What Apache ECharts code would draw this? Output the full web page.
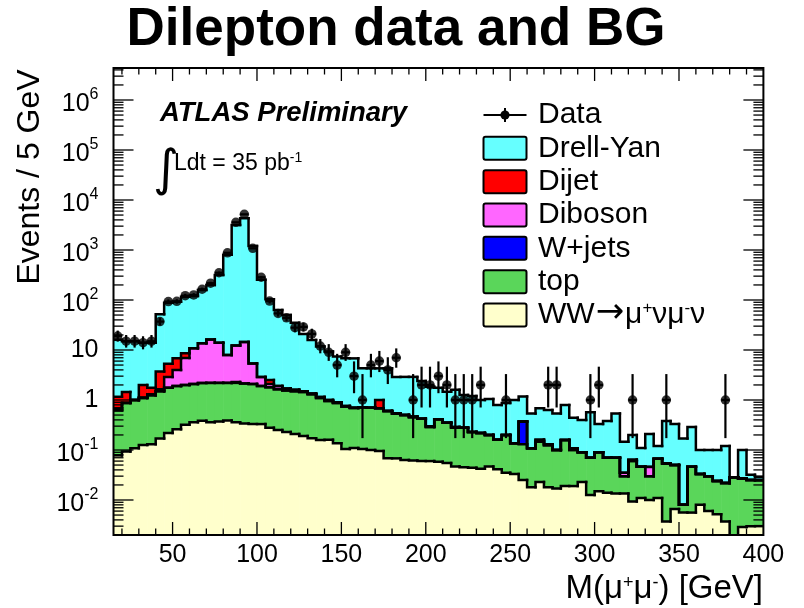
<!DOCTYPE html>
<html>
<head>
<meta charset="utf-8">
<script src="https://cdn.jsdelivr.net/npm/echarts@6/dist/echarts.min.js"></script>
<style>
  html, body { margin: 0; padding: 0; background: #fff; }
  #chart { width: 804px; height: 608px; }
</style>
</head>
<body>
<div id="chart"></div>
<script>
// Dimuon invariant mass, 5 GeV bins from 15 to 400 GeV
const massLow = 15;
const binWidth = 5;

// Observed events per bin
const dataCounts = [
  19, 15, 15, 14, 15, 37, 93, 94, 122, 126, 164, 217, 351, 880, 3580, 5170, 1080, 285, 95, 54,
  44, 28, 29, 21, 12, 9, 5, 9, 3, 1, 5, 6, 4, 7, 0, 1, 2, 2, 3, 2,
  1, 1, 1, 2, 0, 0, 1, 0, 0, 0, 0, 2, 2, 0, 0, 0, 1, 2, 0, 0,
  0, 1, 0, 0, 0, 1, 0, 0, 0, 0, 0, 0, 1, 0, 0, 0, 0
];

// Expected events per bin for each process (stacked bottom to top)
const wwMuNuMuNu = [
  0.078, 0.093, 0.108, 0.126, 0.13, 0.17, 0.22, 0.26, 0.32, 0.36, 0.385, 0.36, 0.37, 0.39, 0.36, 0.34, 0.33, 0.33, 0.28, 0.25,
  0.23, 0.21, 0.19, 0.171, 0.158, 0.16, 0.136, 0.105, 0.11, 0.105, 0.1, 0.095, 0.068, 0.068, 0.063, 0.062, 0.06, 0.06, 0.058, 0.055,
  0.047, 0.045, 0.044, 0.042, 0.047, 0.041, 0.035, 0.033, 0.025, 0.018, 0.023, 0.018, 0.017, 0.019, 0.019, 0.023, 0.0126, 0.015, 0.014, 0.0135,
  0.0135, 0.0093, 0.011, 0.01, 0.011, 0.0037, 0.0066, 0.0056, 0.0056, 0.008, 0.006, 0.0052, 0.0037, 0, 0.0029, 0.003, 0.003
];
const topQuark = [
  0.552, 0.777, 0.892, 0.974, 1.12, 1.33, 1.53, 1.64, 1.68, 1.74, 1.815, 1.84, 1.83, 1.81, 1.84, 1.81, 1.77, 1.57, 1.52, 1.4,
  1.32, 1.29, 1.26, 1.129, 0.942, 0.79, 0.734, 0.635, 0.58, 0.615, 0.6, 0.585, 0.532, 0.472, 0.437, 0.388, 0.36, 0.23, 0.352, 0.295,
  0.233, 0.235, 0.186, 0.178, 0.153, 0.119, 0.165, 0.103, 0.105, 0.09, 0.124, 0.107, 0.083, 0.139, 0.081, 0.067, 0.0574, 0.075, 0.056, 0.0565,
  0.0165, 0.0507, 0.035, 0.02, 0.056, 0.0503, 0.0434, 0.0024, 0.0404, 0.025, 0.024, 0.0188, 0.0183, 0.0285, 0.0241, 0.022, 0.022
];
const wJets = [
  0, 0, 0, 0, 0, 0, 0, 0, 0, 0, 0, 0, 0, 0, 0.1, 0, 0, 0, 0, 0,
  0, 0, 0, 0, 0, 0, 0, 0, 0, 0, 0, 0, 0, 0, 0, 0, 0, 0, 0, 0,
  0, 0, 0, 0, 0, 0, 0, 0, 0.24, 0, 0, 0, 0, 0, 0, 0, 0, 0, 0, 0,
  0, 0, 0, 0, 0, 0, 0, 0, 0, 0, 0, 0, 0, 0, 0, 0, 0
];
const diboson = [
  0.03, 0.01, 0, 0.02, 0.05, 0.15, 1.15, 2.1, 4.9, 8.7, 11.4, 14.1, 11.8, 5.7, 10, 12.35, 3.3, 1.0, 0.3, 0.25,
  0.15, 0.1, 0.05, 0.05, 0.05, 0.05, 0.03, 0.02, 0.01, 0, 0, 0, 0, 0, 0, 0.02, 0, 0.01, 0, 0,
  0.01, 0, 0, 0, 0, 0, 0, 0, 0, 0, 0.013, 0.005, 0, 0, 0.008, 0, 0, 0, 0, 0,
  0.005, 0.004, 0, 0.016, 0, 0, 0, 0, 0, 0, 0, 0, 0, 0, 0, 0, 0
];
const dijet = [
  0.5, 0.57, 0, 0.88, 0.45, 2.05, 2.4, 2.8, 1.7, 0, 0, 0, 0, 0, 0, 0, 0, 0, 0.4, 0,
  0, 0, 0, 0, 0, 0, 0, 0, 0, 0, 0, 0.32, 0, 0, 0, 0, 0, 0, 0, 0,
  0, 0, 0, 0, 0, 0, 0, 0, 0, 0, 0, 0, 0, 0, 0, 0, 0, 0, 0, 0,
  0, 0, 0, 0, 0, 0, 0, 0, 0, 0, 0, 0, 0, 0, 0, 0, 0
];
const drellYan = [
  14.84, 13.55, 14, 12, 12.25, 48.3, 82.7, 85.2, 107.4, 109.2, 144.4, 183.7, 302, 792, 3148, 4286, 1195, 252, 100.5, 61.1,
  48.3, 33.4, 19.5, 14.45, 10.55, 8.3, 6.5, 6.04, 6.1, 3.58, 3.6, 3.3, 3.7, 2.36, 2.4, 2.43, 1.98, 1.55, 1.34, 1.12,
  1.31, 0.98, 0.97, 0.78, 0.85, 0.63, 0.67, 0.864, 0.8, 0.432, 0.52, 0.5, 0.44, 0.632, 0.332, 0.31, 0.5, 0.24, 0.31, 0.47,
  0.112, 0.136, 0.064, 0.164, 0.053, 0.326, 0.28, 0.162, 0.244, 0.067, 0.07, 0.076, 0.098, 0, 0.073, 0.007, 0.004
];

// Axis ranges and tick positions
const xRange = [15, 400];
const yRange = [Math.pow(10, -2.7), Math.pow(10, 6.64)];
const xMajorTicks = [50, 100, 150, 200, 250, 300, 350, 400];
const yMajorExponents = [-2, -1, 0, 1, 2, 3, 4, 5, 6];

const FONT = 'Liberation Sans';

const processes = [
  { name: 'WW\u2192\u03bc+\u03bd\u03bc-\u03bd', values: wwMuNuMuNu, color: '#ffffcc',
    label: '{b|WW}{arr|\u2192}{b|\u03bc}{sup|+}{b|\u03bd\u03bc}{sup|-}{b|\u03bd}' },
  { name: 'top', values: topQuark, color: '#5ad65a', label: '{b|top}' },
  { name: 'W+jets', values: wJets, color: '#0000ff', label: '{b|W+jets}' },
  { name: 'Diboson', values: diboson, color: '#ff66ff', label: '{b|Diboson}' },
  { name: 'Dijet', values: dijet, color: '#ff0000', label: '{b|Dijet}' },
  { name: 'Drell-Yan', values: drellYan, color: '#66ffff', label: '{b|Drell-Yan}' }
];

// Running sums give the stacked histogram boundaries
const nBins = dataCounts.length;
let runningSum = new Array(nBins).fill(0);
processes.forEach(p => {
  p.lower = runningSum.slice();
  p.upper = runningSum.map((s, i) => s + p.values[i]);
  runningSum = p.upper;
});

// Poisson 68% central interval (Garwood)
function poissonCdf(n, mu) {
  let logTerm = -mu;
  let sum = Math.exp(logTerm);
  for (let k = 1; k <= n; k++) {
    logTerm += Math.log(mu / k);
    sum += Math.exp(logTerm);
  }
  return sum;
}
function bisect(f, lo, hi) {
  for (let i = 0; i < 80; i++) {
    const m = 0.5 * (lo + hi);
    if (f(m) > 0) lo = m; else hi = m;
  }
  return 0.5 * (lo + hi);
}
const tailProb = 0.158655;
function poissonInterval(n) {
  if (n > 60) return [n - Math.sqrt(n), n + Math.sqrt(n)];
  const hi = bisect(mu => poissonCdf(n, mu) - tailProb, n, n + 6 * Math.sqrt(n + 1) + 6);
  const lo = n === 0 ? 0 : bisect(mu => tailProb - (1 - poissonCdf(n - 1, mu)), 0, n);
  return [lo, hi];
}

const dataPoints = [];
const dataErrors = [];
dataCounts.forEach((n, i) => {
  if (n <= 0) return;
  const x = massLow + (i + 0.5) * binWidth;
  const [lo, hi] = poissonInterval(n);
  dataPoints.push([x, n]);
  dataErrors.push([x, n, lo, hi]);
});

// Tick list for the frame: [axis, value, isMajor]
const tickItems = [];
for (let v = 20; v <= 390; v += 10) tickItems.push([0, v, xMajorTicks.indexOf(v) >= 0 ? 1 : 0]);
yMajorExponents.forEach(e => tickItems.push([1, Math.pow(10, e), 1]));
for (let e = -3; e <= 6; e++) {
  for (let k = 2; k <= 9; k++) {
    const v = k * Math.pow(10, e);
    if (v > yRange[0] && v < yRange[1]) tickItems.push([1, v, 0]);
  }
}
tickItems.push([2, 0, 0]); // frame

const floorValue = yRange[0] * 0.3;
const clampY = v => Math.max(v, floorValue);

const series = [];

// Filled bands, one rectangle per bin between the running sums
processes.forEach((p, idx) => {
  const items = p.values.map((v, i) => [
    massLow + i * binWidth, massLow + (i + 1) * binWidth, p.lower[i], p.upper[i]
  ]);
  series.push({
    name: p.name,
    type: 'custom',
    data: items,
    encode: { x: [0, 1], y: [2, 3] },
    clip: true,
    silent: true,
    z: 2,
    renderItem: function (params, api) {
      const x0 = api.value(0), x1 = api.value(1);
      const yb = api.value(2), yt = api.value(3);
      if (!(yt > yb)) return null;
      const a = api.coord([x0, idx === 0 ? floorValue : clampY(yb)]);
      const b = api.coord([x1, clampY(yt)]);
      return {
        type: 'rect',
        shape: { x: a[0], y: b[1], width: b[0] - a[0] + 0.6, height: a[1] - b[1] },
        style: { fill: p.color, stroke: null }
      };
    }
  });
});

// Black step outline along the top of each stacked histogram
processes.slice().reverse().forEach(p => {
  const items = p.upper.map((v, i) => [
    massLow + i * binWidth, massLow + (i + 1) * binWidth, i > 0 ? p.upper[i - 1] : v, v
  ]);
  series.push({
    name: p.name + ' outline',
    type: 'custom',
    data: items,
    encode: { x: [0, 1], y: [2, 3] },
    clip: true,
    silent: true,
    z: 3,
    renderItem: function (params, api) {
      const x0 = api.value(0), x1 = api.value(1);
      const yp = clampY(api.value(2)), yt = clampY(api.value(3));
      const a = api.coord([x0, yp]);
      const b = api.coord([x0, yt]);
      const c = api.coord([x1, yt]);
      return {
        type: 'polyline',
        shape: { points: [a, b, c] },
        style: { stroke: '#000', lineWidth: 2.5, fill: null, lineJoin: 'miter', lineCap: 'square' }
      };
    }
  });
});

series.push({
  name: 'Data errors',
  type: 'custom',
  data: dataErrors,
  encode: { x: 0, y: 1 },
  z: 10,
  silent: true,
  renderItem: function (params, api) {
    const x = api.value(0), n = api.value(1), lo = api.value(2), hi = api.value(3);
    const pc = api.coord([x, n]);
    const pl = api.coord([x, clampY(lo)]);
    const ph = api.coord([x, hi]);
    const pa = api.coord([x - binWidth / 2, n]);
    const pb = api.coord([x + binWidth / 2, n]);
    const st = { stroke: '#000', lineWidth: 2.2 };
    return {
      type: 'group',
      children: [
        { type: 'line', shape: { x1: pc[0], y1: pl[1], x2: pc[0], y2: ph[1] }, style: st },
        { type: 'line', shape: { x1: pa[0], y1: pc[1], x2: pb[0], y2: pc[1] }, style: st }
      ]
    };
  }
});

series.push({
  name: 'Data',
  type: 'scatter',
  data: dataPoints,
  symbol: 'circle',
  symbolSize: 9.5,
  itemStyle: { color: '#000' },
  z: 11,
  silent: true
});

series.push({
  name: 'Frame',
  type: 'custom',
  data: tickItems,
  encode: { x: 1, y: 2 },
  z: 20,
  silent: true,
  renderItem: function (params, api) {
    const cs = params.coordSys;
    const kind = api.value(0), v = api.value(1), major = api.value(2);
    const st = { stroke: '#000', lineWidth: 1.3 };
    if (kind === 2) {
      return { type: 'rect', shape: { x: cs.x, y: cs.y, width: cs.width, height: cs.height },
               style: { fill: null, stroke: '#000', lineWidth: 2 } };
    }
    if (kind === 0) {
      const px = api.coord([v, 1])[0];
      const len = major ? 13 : 6.5;
      const yb = cs.y + cs.height, yt = cs.y;
      return { type: 'group', children: [
        { type: 'line', shape: { x1: px, y1: yb, x2: px, y2: yb - len }, style: st },
        { type: 'line', shape: { x1: px, y1: yt, x2: px, y2: yt + len }, style: st }
      ] };
    }
    const py = api.coord([massLow, v])[1];
    const len = major ? 20 : 10;
    const xl = cs.x, xr = cs.x + cs.width;
    return { type: 'group', children: [
      { type: 'line', shape: { x1: xl, y1: py, x2: xl + len, y2: py }, style: st },
      { type: 'line', shape: { x1: xr, y1: py, x2: xr - len, y2: py }, style: st }
    ] };
  }
});

// Legend block: data marker first, then the processes from top of the stack down
const legendRich = {
  b: { fontSize: 30, fontFamily: FONT, fill: '#000', verticalAlign: 'bottom', lineHeight: 30 },
  arr: { fontSize: 34, fontFamily: 'DejaVu Sans', fill: '#000', verticalAlign: 'bottom', lineHeight: 30, padding: [0, 1, 0, 1] },
  sup: { fontSize: 17, fontFamily: FONT, fill: '#000', verticalAlign: 'bottom', lineHeight: 17, padding: [0, 0, 13, 0] }
};
const legendTop = 115;
const legendStep = 33.33;
const legendBoxX = 483.5, legendBoxW = 43, legendBoxH = 23, legendTextX = 538;
const legendGraphics = [];
legendGraphics.push(
  { type: 'line', shape: { x1: legendBoxX, y1: legendTop, x2: legendBoxX + legendBoxW, y2: legendTop }, style: { stroke: '#000', lineWidth: 2 } },
  { type: 'line', shape: { x1: legendBoxX + legendBoxW / 2, y1: legendTop - 7, x2: legendBoxX + legendBoxW / 2, y2: legendTop + 7 }, style: { stroke: '#000', lineWidth: 2 } },
  { type: 'circle', shape: { cx: legendBoxX + legendBoxW / 2, cy: legendTop, r: 4.6 }, style: { fill: '#000' } },
  { type: 'text', x: legendTextX, y: legendTop, style: { text: '{b|Data}', rich: legendRich, verticalAlign: 'middle' } }
);
processes.slice().reverse().forEach((p, k) => {
  const cy = legendTop + (k + 1) * legendStep;
  legendGraphics.push(
    { type: 'rect', shape: { x: legendBoxX, y: cy - legendBoxH / 2, width: legendBoxW, height: legendBoxH, r: 2 },
      style: { fill: p.color, stroke: '#000', lineWidth: 2 } },
    { type: 'text', x: legendTextX, y: cy, style: { text: p.label, rich: legendRich, verticalAlign: 'middle' } }
  );
});

const chart = echarts.init(document.getElementById('chart'), null, { renderer: 'canvas' });

const option = {
  animation: false,
  backgroundColor: '#fff',
  textStyle: { fontFamily: FONT, color: '#000' },
  grid: { left: 113.5, right: 40.6, top: 68, bottom: 73, containLabel: false },
  xAxis: {
    type: 'value',
    min: xRange[0],
    max: xRange[1],
    splitNumber: 8,
    axisLine: { show: false },
    axisTick: { show: false },
    splitLine: { show: false },
    axisLabel: { showMinLabel: false, fontSize: 25, color: '#000', margin: 8, fontFamily: FONT }
  },
  yAxis: {
    type: 'log',
    logBase: 10,
    min: yRange[0],
    max: yRange[1],
    splitNumber: 10,
    axisLine: { show: false },
    axisTick: { show: false },
    splitLine: { show: false },
    axisLabel: {
      showMinLabel: false,
      showMaxLabel: false,
      fontSize: 25,
      color: '#000',
      margin: 15,
      fontFamily: FONT,
      formatter: function (v) {
        const e = Math.round(Math.log10(v));
        if (e === 0) return '1';
        if (e === 1) return '10';
        return '{b|10}{sup|' + e + '}';
      },
      rich: {
        b: { fontSize: 25, fontFamily: FONT, color: '#000', verticalAlign: 'bottom', padding: [8, 0, 0, 0] },
        sup: { fontSize: 16, fontFamily: FONT, color: '#000', verticalAlign: 'bottom', padding: [0, 0, 14, 0] }
      }
    }
  },
  graphic: [
    { type: 'text', x: 396, y: 30,
      style: { text: 'Dilepton data and BG', font: 'bold 53px "Liberation Sans"', fill: '#000', align: 'center', verticalAlign: 'middle' } },
    { type: 'text', x: 30, y: 177, rotation: Math.PI / 2,
      style: { text: 'Events / 5 GeV', font: '32px "Liberation Sans"', fill: '#000', align: 'center', verticalAlign: 'middle' } },
    { type: 'text', x: 763, y: 589,
      style: { text: '{b|M(\u03bc}{sup|+}{b|\u03bc}{sup|-}{b|) [GeV]}', align: 'right', verticalAlign: 'middle', fill: '#000',
        rich: {
          b: { fontSize: 33, fontFamily: FONT, fill: '#000', verticalAlign: 'bottom' },
          sup: { fontSize: 18, fontFamily: FONT, fill: '#000', verticalAlign: 'bottom', padding: [0, 0, 13, 0] }
        } } },
    { type: 'text', x: 160, y: 113,
      style: { text: 'ATLAS Preliminary', font: 'italic bold 27.5px "Liberation Sans"', fill: '#000', verticalAlign: 'middle' } },
    { type: 'text', x: 153, y: 172,
      style: { text: '\u222b', font: '50px "DejaVu Sans"', fill: '#000', verticalAlign: 'middle' } },
    { type: 'text', x: 174, y: 163,
      style: { text: '{b|Ldt = 35 pb}{sup|-1}', verticalAlign: 'middle', fill: '#000',
        rich: {
          b: { fontSize: 23, fontFamily: FONT, fill: '#000', verticalAlign: 'bottom' },
          sup: { fontSize: 14, fontFamily: FONT, fill: '#000', verticalAlign: 'bottom', padding: [0, 0, 10, 0] }
        } } },
    { type: 'group', children: legendGraphics }
  ],
  series: series
};

chart.setOption(option);
</script>
</body>
</html>
